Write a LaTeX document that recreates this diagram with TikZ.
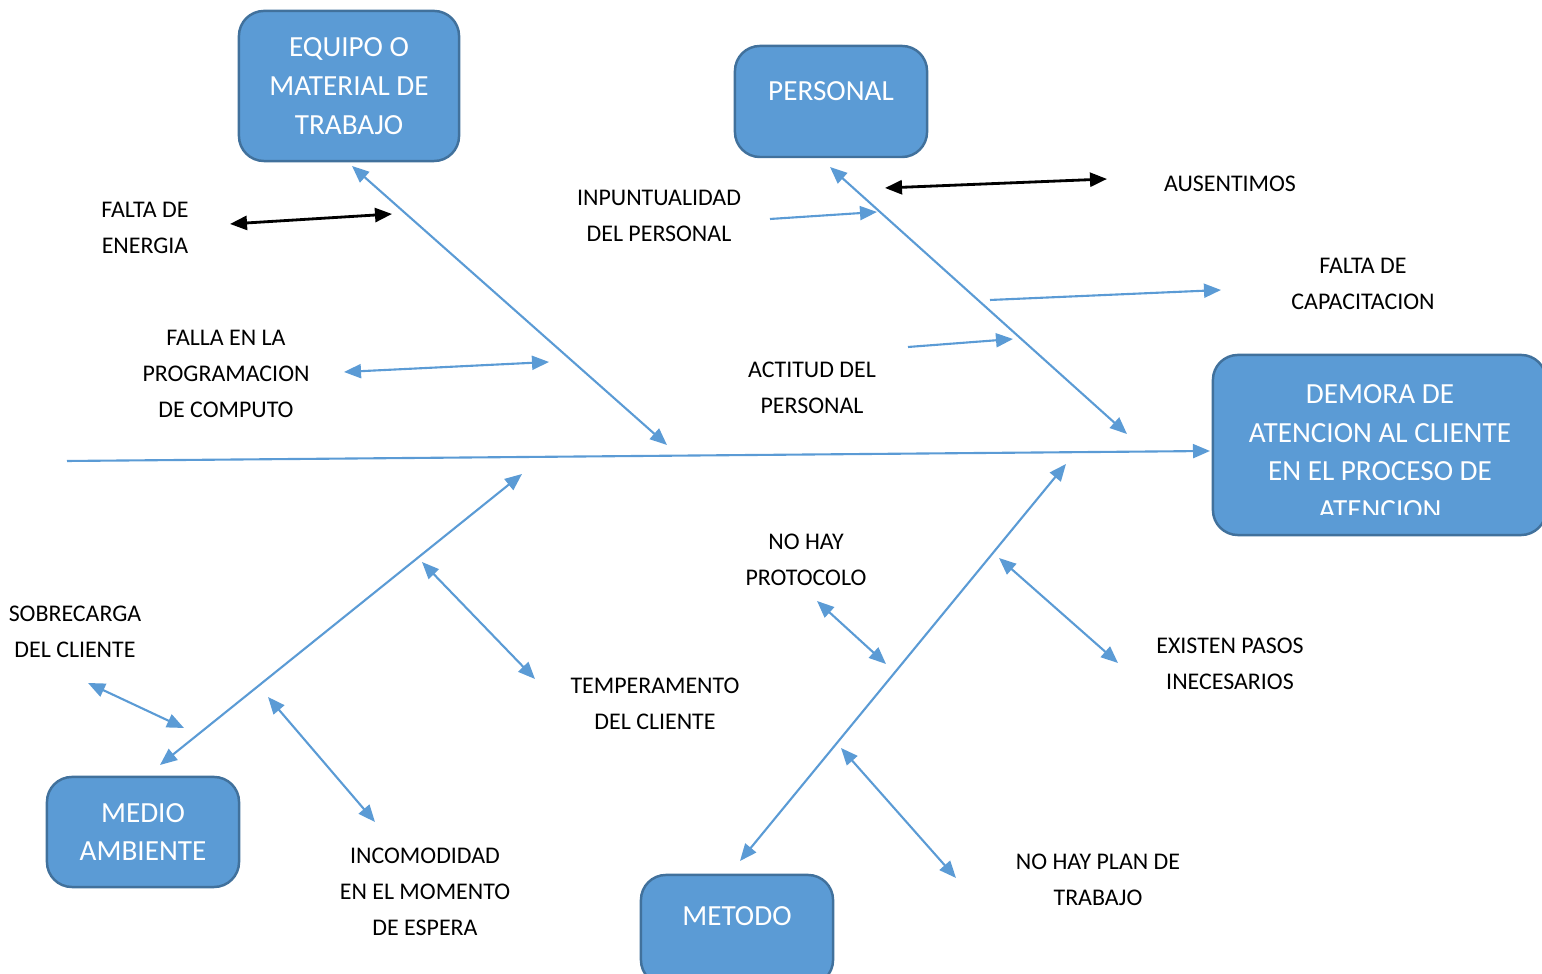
\documentclass[tikz,border=0pt]{standalone}
\usepackage{fontspec}
\setmainfont{Carlito}
\usetikzlibrary{arrows.meta}
\definecolor{azul}{HTML}{5B9BD5}
\definecolor{borde}{HTML}{41719C}

\begin{document}
\begin{tikzpicture}[x=0.01cm,y=-0.01cm]
            \tikzset{caja/.style = {shape=rectangle, rounded corners=0.25cm, draw=borde, line width=0.7pt, fill=azul, text=white, align=center, font=\fontsize{8.3}{11}\selectfont, inner sep=0pt}}
            \tikzset{cajatexto/.style = {align=center, text=white, font=\fontsize{8.3}{11}\selectfont, inner sep=0pt}}
            \tikzset{etiqueta/.style = {align=center, font=\fontsize{6.8}{10.2}\selectfont, inner sep=0pt}}
            \tikzset{punta/.tip = {Triangle[length=0.17cm, width=0.14cm]}}
            \tikzset{flecha/.style = {draw=azul, line width=0.6pt, punta-punta}}
            \tikzset{simple/.style = {draw=azul, line width=0.6pt, -punta}}
            \tikzset{negra/.style = {draw=black, line width=0.8pt, punta-punta}}
            \clip (0,0) rectangle (1542,974);
            % categorias
            \node[caja, minimum width=2.2cm, minimum height=1.5cm] (equipo) at (349,86) {EQUIPO O\\MATERIAL DE\\TRABAJO};
            \node[caja, minimum width=1.92cm, minimum height=1.11cm] (personal) at (831,101.5) {};
            \node[cajatexto] (personaltxt) at (831,91) {PERSONAL};
            \node[caja, minimum width=1.92cm, minimum height=1.1cm] (medio) at (143,832) {MEDIO\\AMBIENTE};
            \node[caja, minimum width=1.92cm, minimum height=1.1cm] (metodo) at (737,930) {};
            \node[cajatexto] (metodotxt) at (737,916) {METODO};
            \node[caja, minimum width=3.33cm, minimum height=1.8cm] (efecto) at (1379.5,445) {};
            \begin{scope}
                \clip (1213,355) rectangle (1546,515);
                \node[cajatexto] (efectotxt) at (1380,452) {DEMORA DE\\ATENCION AL CLIENTE\\EN EL PROCESO DE\\ATENCION};
            \end{scope}
            % causas
            \node[etiqueta] (energia) at (145,228) {FALTA DE\\ENERGIA};
            \node[etiqueta] (programacion) at (226,374) {FALLA EN LA\\PROGRAMACION\\DE COMPUTO};
            \node[etiqueta] (inpuntualidad) at (659,216) {INPUNTUALIDAD\\DEL PERSONAL};
            \node[etiqueta] (ausentimos) at (1230,184) {AUSENTIMOS};
            \node[etiqueta] (capacitacion) at (1363,284) {FALTA DE\\CAPACITACION};
            \node[etiqueta] (actitud) at (812,388) {ACTITUD DEL\\PERSONAL};
            \node[etiqueta] (protocolo) at (806,560) {NO HAY\\PROTOCOLO};
            \node[etiqueta] (pasos) at (1230,664) {EXISTEN PASOS\\INECESARIOS};
            \node[etiqueta] (sobrecarga) at (75,632) {SOBRECARGA\\DEL CLIENTE};
            \node[etiqueta] (temperamento) at (655,704) {TEMPERAMENTO\\DEL CLIENTE};
            \node[etiqueta] (incomodidad) at (425,892) {INCOMODIDAD\\EN EL MOMENTO\\DE ESPERA};
            \node[etiqueta] (plan) at (1098,880) {NO HAY PLAN DE\\TRABAJO};
            % puntos de las flechas
            \coordinate (espinaA) at (67,461);
            \coordinate (espinaB) at (1210,451);
            \coordinate (equipoA) at (352,166);
            \coordinate (equipoB) at (667,445);
            \coordinate (personalA) at (830,167);
            \coordinate (personalB) at (1127,434);
            \coordinate (medioA) at (522,474);
            \coordinate (medioB) at (160,765);
            \coordinate (metodoA) at (1066,464);
            \coordinate (metodoB) at (740,861);
            \coordinate (energiaA) at (230,224);
            \coordinate (energiaB) at (392,214);
            \coordinate (programacionA) at (344,372);
            \coordinate (programacionB) at (549,362);
            \coordinate (inpuntualidadA) at (770,219);
            \coordinate (inpuntualidadB) at (877,212);
            \coordinate (ausentimosA) at (885,188);
            \coordinate (ausentimosB) at (1107,179);
            \coordinate (capacitacionA) at (990,300);
            \coordinate (capacitacionB) at (1221,290);
            \coordinate (actitudA) at (908,347);
            \coordinate (actitudB) at (1013,339);
            \coordinate (temperamentoA) at (422,562);
            \coordinate (temperamentoB) at (535,679);
            \coordinate (sobrecargaA) at (88,683);
            \coordinate (sobrecargaB) at (184,728);
            \coordinate (incomodidadA) at (268,697);
            \coordinate (incomodidadB) at (375,822);
            \coordinate (protocoloA) at (817,601);
            \coordinate (protocoloB) at (886,664);
            \coordinate (pasosA) at (999,558);
            \coordinate (pasosB) at (1118,663);
            \coordinate (planA) at (841,748);
            \coordinate (planB) at (956,878);
            % espina y ramas
            \draw[simple] (espinaA) to (espinaB);
            \draw[flecha] (equipoA) to (equipoB);
            \draw[flecha] (personalA) to (personalB);
            \draw[flecha] (medioA) to (medioB);
            \draw[flecha] (metodoA) to (metodoB);
            % causas
            \draw[negra] (energiaA) to (energiaB);
            \draw[flecha] (programacionA) to (programacionB);
            \draw[simple] (inpuntualidadA) to (inpuntualidadB);
            \draw[negra] (ausentimosA) to (ausentimosB);
            \draw[simple] (capacitacionA) to (capacitacionB);
            \draw[simple] (actitudA) to (actitudB);
            \draw[flecha] (temperamentoA) to (temperamentoB);
            \draw[flecha] (sobrecargaA) to (sobrecargaB);
            \draw[flecha] (incomodidadA) to (incomodidadB);
            \draw[flecha] (protocoloA) to (protocoloB);
            \draw[flecha] (pasosA) to (pasosB);
            \draw[flecha] (planA) to (planB);
        \end{tikzpicture}
\end{document}
